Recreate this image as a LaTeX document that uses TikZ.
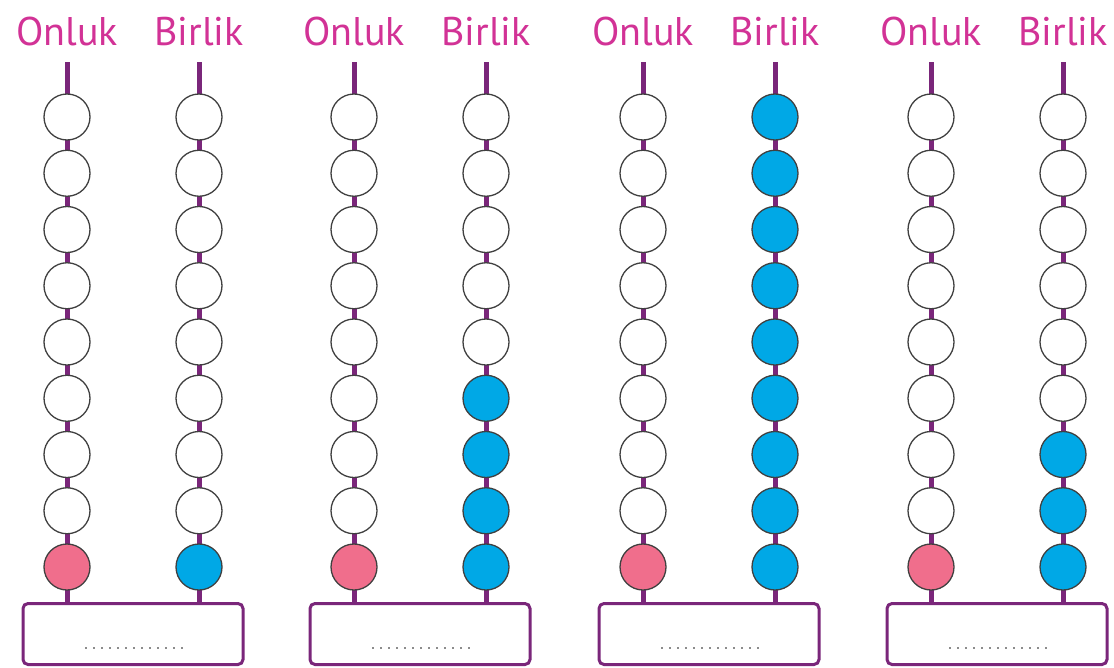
\documentclass[tikz,border=0pt]{standalone}
\usepackage{fontspec}
\setmainfont{PT Sans}
\definecolor{rodpurple}{RGB}{122,38,122}
\definecolor{labelpink}{RGB}{210,50,150}
\definecolor{beadpink}{RGB}{240,110,140}
\definecolor{beadblue}{RGB}{0,168,230}
\tikzset{
  rod/.style={rodpurple, line width=5pt},
  bead/.style={circle, draw=black!75, line width=1.3pt, minimum size=46pt, inner sep=0pt},
  rodlabel/.style={labelpink, font=\fontsize{40}{42}\selectfont, anchor=base},
  answerbox/.style={draw=rodpurple, line width=3pt, rounded corners=5pt, fill=white,
    minimum width=220pt, minimum height=61pt, inner sep=0pt},
  dotline/.style={black!45, line width=1.8pt, dash pattern=on 1.6pt off 6.4pt}
}
\begin{document}
\begin{tikzpicture}[x=1pt,y=-1pt]
  \useasboundingbox[fill=white] (0,0) rectangle (1114,667);
  % four abaci: tens rod x, number of unit beads
  \foreach \a/\ox/\nb in {1/67/1, 2/354/4, 3/643/9, 4/931/3} {
    \pgfmathsetmacro\bx{\ox+132}
    \node[rodlabel] (on\a) at (\ox,45) {Onluk};
    \node[rodlabel] (bi\a) at (\bx,45) {Birlik};
    \node[answerbox] (box\a) at ({(\ox+\bx)/2},634) {};
    \coordinate (ot\a) at (\ox,62);
    \coordinate (bt\a) at (\bx,62);
    \draw[rod] (ot\a) -- (ot\a |- box\a.north);
    \draw[rod] (bt\a) -- (bt\a |- box\a.north);
    \draw[dotline] ([shift={(-48,14)}]box\a.center) -- ([shift={(52,14)}]box\a.center);
    \foreach \i in {1,...,9} {
      \pgfmathsetmacro\by{117+(\i-1)*56.25}
      \ifnum\i=9 \def\ocol{beadpink}\else\def\ocol{white}\fi
      \pgfmathtruncatemacro\full{\i>9-\nb}
      \ifnum\full=1 \def\bcol{beadblue}\else\def\bcol{white}\fi
      \node[bead, fill=\ocol] (o\a-\i) at (\ox,\by) {};
      \node[bead, fill=\bcol] (b\a-\i) at (\bx,\by) {};
    }
  }
\end{tikzpicture}
\end{document}
